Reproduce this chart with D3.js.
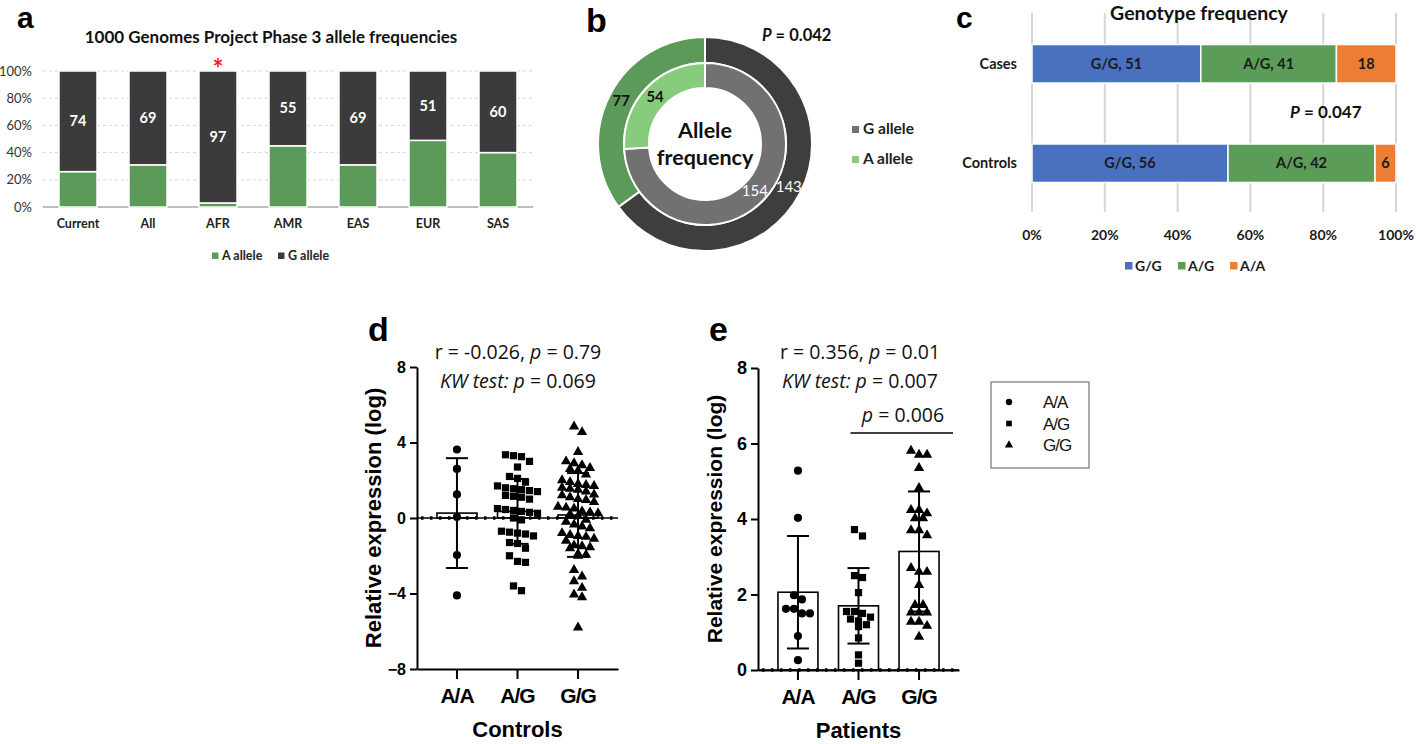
<!DOCTYPE html>
<html lang="en">
<head>
<meta charset="utf-8" />
<title>Allele and genotype frequencies</title>
<script src="https://d3js.org/d3.v7.min.js"></script>
<style>
  body { margin: 0; background: #ffffff; }
  svg { display: block; }
  .cal { font-family: Lato, "Open Sans", sans-serif; }
  .ari { font-family: "Liberation Sans", Arial, sans-serif; }
</style>
</head>
<body>
<svg id="fig" width="1416" height="744"></svg>
<script>
// ---- data ----
// panel a: 1000 Genomes allele frequencies (%)
const popCats = ["Current", "All", "AFR", "AMR", "EAS", "EUR", "SAS"];
const aAllele = [26, 31, 3, 45, 31, 49, 40];
const gAllele = [74, 69, 97, 55, 69, 51, 60];
const pctTicks = [0, 20, 40, 60, 80, 100];

// panel b: allele counts (outer ring / inner ring)
const alleleNames = ["G allele", "A allele"];
const outerCounts = [143, 77];
const innerCounts = [154, 54];

// panel c: genotype counts
const groupsC = ["Cases", "Controls"];
const genoC = ["G/G", "A/G", "A/A"];
const casesCounts = [51, 41, 18];
const controlsCounts = [56, 42, 6];

// panels d, e: relative expression (log)
const genos = ["A/A", "A/G", "G/G"];
const ctlAA = [3.63, 2.6, 1.25, 0.05, -1.96, -4.1];
const ctlAG = [3.35, 3.3, 3.25, 3.0, 2.7, 2.2, 2.1, 1.9, 1.7, 1.6, 1.55, 1.5, 1.45, 1.4, 1.2, 1.15, 1.1, 1.0,
  0.5, 0.45, 0.4, 0.35, 0.3, 0.25, 0.0, -0.1, -0.7, -0.75, -0.8, -0.85, -0.95, -1.3, -1.35, -1.6, -2.0,
  -2.3, -2.35, -3.6, -3.85];
const ctlGG = [4.85, 4.55, 3.5, 3.0, 2.9, 2.8, 2.65, 2.6, 2.5, 2.3, 2.0, 1.9, 1.8, 1.75, 1.7, 1.6, 1.55, 1.5,
  1.4, 1.25, 1.2, 1.1, 1.0, 0.95, 0.85, 0.6, 0.55, 0.5, 0.35, 0.3, 0.25, 0.2, 0.1, -0.1, -0.2, -0.35, -0.45,
  -0.55, -0.8, -0.9, -0.95, -1.0, -1.1, -1.2, -1.45, -1.5, -1.55, -1.6, -1.9, -1.95, -2.0, -2.75, -3.1,
  -3.35, -3.7, -4.05, -4.2, -5.8];
const ctlMean = [0.26, 0.35, 0.16];
const ctlSd = [2.91, 1.72, 2.22];

const patAA = [5.28, 4.03, 1.98, 1.87, 1.62, 1.62, 1.5, 1.5, 0.9, 0.26];
const patAG = [3.72, 3.55, 2.5, 2.45, 2.05, 1.55, 1.55, 1.5, 1.4, 1.35, 1.3, 1.2, 1.15, 0.85, 0.4, 0.18];
const patGG = [5.81, 5.7, 5.7, 5.35, 4.82, 4.24, 4.24, 4.15, 4.02, 4.02, 3.7, 3.7, 3.57, 2.7, 2.6, 2.6,
  2.25, 1.72, 1.72, 1.52, 1.52, 1.52, 1.28, 1.28, 1.17, 0.88];
const patMean = [2.06, 1.7, 3.14];
const patSd = [1.49, 1.0, 1.59];

const svg = d3.select("svg#fig");
const green = "#5b9a58";
const dark = "#3b3b3b";

// ================= panel a =================
const gA = svg.append("g").attr("class", "cal");
const xA = d3.scaleBand().domain(popCats).range([43, 533]).paddingInner(0.457).paddingOuter(0.2285);
const yA = d3.scaleLinear().domain([0, 100]).range([207, 71]);

gA.selectAll("line.grid")
  .data(pctTicks)
  .join("line")
  .attr("x1", 43).attr("x2", 533)
  .attr("y1", d => yA(d)).attr("y2", d => yA(d))
  .attr("stroke", d => d === 0 ? "#bdbdbd" : "#d4d4d4")
  .attr("stroke-width", d => d === 0 ? 2 : 1)
  .attr("stroke-dasharray", d => d === 0 ? null : "3,3");

const axA = gA.append("g")
  .attr("transform", "translate(43,0)")
  .call(d3.axisLeft(yA).tickValues(pctTicks).tickFormat(d => d + "%").tickSize(0).tickPadding(11));
axA.select(".domain").remove();
axA.selectAll("text").attr("font-size", 13).attr("fill", "#333").attr("font-family", "Lato");

gA.selectAll("rect.aa")
  .data(popCats)
  .join("rect")
  .attr("x", d => xA(d)).attr("width", xA.bandwidth())
  .attr("y", (d, i) => yA(aAllele[i]))
  .attr("height", (d, i) => yA(0) - yA(aAllele[i]))
  .attr("fill", green).attr("stroke", "#fff").attr("stroke-width", 1.5);

gA.selectAll("rect.ga")
  .data(popCats)
  .join("rect")
  .attr("x", d => xA(d)).attr("width", xA.bandwidth())
  .attr("y", (d, i) => yA(aAllele[i] + gAllele[i]))
  .attr("height", (d, i) => yA(aAllele[i]) - yA(aAllele[i] + gAllele[i]))
  .attr("fill", dark).attr("stroke", "#fff").attr("stroke-width", 1.5);

gA.selectAll("text.val")
  .data(popCats)
  .join("text")
  .attr("x", d => xA(d) + xA.bandwidth() / 2)
  .attr("y", (d, i) => yA(aAllele[i] + gAllele[i] / 2) + 5)
  .attr("text-anchor", "middle").attr("fill", "#fff")
  .attr("font-size", 14.5).attr("font-weight", "bold")
  .text((d, i) => gAllele[i]);

gA.selectAll("text.cat")
  .data(popCats)
  .join("text")
  .attr("x", d => xA(d) + xA.bandwidth() / 2)
  .attr("y", 228)
  .attr("text-anchor", "middle").attr("fill", "#222")
  .attr("font-size", 12.5).attr("font-weight", "bold")
  .text(d => d);

gA.append("text")
  .attr("x", xA("AFR") + xA.bandwidth() / 2).attr("y", 78)
  .attr("text-anchor", "middle").attr("fill", "#ff1a1a")
  .attr("font-size", 26).attr("font-weight", "bold")
  .text("*");

gA.append("text")
  .attr("x", 271).attr("y", 43)
  .attr("text-anchor", "middle").attr("fill", "#111")
  .attr("font-size", 17).attr("font-weight", "bold")
  .text("1000 Genomes Project Phase 3 allele frequencies");

const legA = [["A allele", green, 212], ["G allele", dark, 278]];
legA.forEach(([t, c, x]) => {
  gA.append("rect").attr("x", x).attr("y", 252.5).attr("width", 6.5).attr("height", 6.5).attr("fill", c);
  gA.append("text").attr("x", x + 10).attr("y", 260).attr("font-size", 12.5).attr("font-weight", "bold")
    .attr("fill", "#222").text(t);
});

// ================= panel b =================
const gB = svg.append("g").attr("class", "cal").attr("transform", "translate(705,144)");
const pie = d3.pie().sort(null).value(d => d);
const arcOuter = d3.arc().innerRadius(81).outerRadius(107);
const arcInner = d3.arc().innerRadius(56).outerRadius(81);
const outerCols = ["#3e3e3e", green];
const innerCols = ["#717171", "#86cc7c"];

gB.selectAll("path.outer")
  .data(pie(outerCounts))
  .join("path")
  .attr("d", arcOuter)
  .attr("fill", (d, i) => outerCols[i])
  .attr("stroke", "#fff").attr("stroke-width", 2);

gB.selectAll("path.inner")
  .data(pie(innerCounts))
  .join("path")
  .attr("d", arcInner)
  .attr("fill", (d, i) => innerCols[i])
  .attr("stroke", "#fff").attr("stroke-width", 2);

gB.selectAll("text.outer")
  .data(pie(outerCounts))
  .join("text")
  .attr("x", d => arcOuter.centroid(d)[0])
  .attr("y", d => arcOuter.centroid(d)[1] + 5)
  .attr("text-anchor", "middle")
  .attr("fill", (d, i) => i === 0 ? "#fff" : "#111")
  .attr("font-size", 15)
  .attr("font-weight", (d, i) => i === 0 ? "normal" : "bold")
  .text(d => d.data);

gB.selectAll("text.inner")
  .data(pie(innerCounts))
  .join("text")
  .attr("x", d => arcInner.centroid(d)[0])
  .attr("y", d => arcInner.centroid(d)[1] + 5)
  .attr("text-anchor", "middle")
  .attr("fill", (d, i) => i === 0 ? "#fff" : "#111")
  .attr("font-size", 15)
  .attr("font-weight", (d, i) => i === 0 ? "normal" : "bold")
  .text(d => d.data);

gB.append("text").attr("x", 0).attr("y", -6).attr("text-anchor", "middle")
  .attr("font-size", 21.5).attr("font-weight", "bold").attr("fill", "#111").text("Allele");
gB.append("text").attr("x", 0).attr("y", 21).attr("text-anchor", "middle")
  .attr("font-size", 21.5).attr("font-weight", "bold").attr("fill", "#111").text("frequency");

const pB = svg.append("text").attr("class", "cal").attr("x", 762).attr("y", 41)
  .attr("font-size", 16.5).attr("font-weight", "bold").attr("fill", "#111");
pB.append("tspan").attr("font-style", "italic").text("P");
pB.append("tspan").text(" = 0.042");

alleleNames.forEach((t, i) => {
  svg.append("rect").attr("x", 852).attr("y", 126 + i * 30).attr("width", 7).attr("height", 7)
    .attr("fill", innerCols[i]);
  svg.append("text").attr("class", "cal").attr("x", 863).attr("y", 134 + i * 30)
    .attr("font-size", 15.5).attr("font-weight", "bold").attr("fill", "#222").text(t);
});

// ================= panel c =================
const gC = svg.append("g").attr("class", "cal");
const xC = d3.scaleLinear().domain([0, 100]).range([1032, 1396]);
const yC = d3.scaleBand().domain(groupsC).range([14, 213]).paddingInner(0.613).paddingOuter(0.307);
const colsC = ["#4a70c0", "#5a9c58", "#ec7d34"];

gC.selectAll("line.grid")
  .data(pctTicks)
  .join("line")
  .attr("x1", d => xC(d)).attr("x2", d => xC(d))
  .attr("y1", 13).attr("y2", 212)
  .attr("stroke", "#d6d6d6").attr("stroke-width", 2);

const countsC = [casesCounts, controlsCounts];
groupsC.forEach((grp, gi) => {
  const cnt = countsC[gi];
  const tot = d3.sum(cnt);
  const cum = d3.cumsum(cnt);
  const segs = cnt.map((c, j) => ({ j, c, x0: (cum[j] - c) / tot * 100, x1: cum[j] / tot * 100 }));
  gC.selectAll("rect.s" + gi)
    .data(segs)
    .join("rect")
    .attr("x", d => xC(d.x0)).attr("width", d => xC(d.x1) - xC(d.x0))
    .attr("y", yC(grp)).attr("height", yC.bandwidth())
    .attr("fill", d => colsC[d.j])
    .attr("stroke", "#fff").attr("stroke-width", 1.5);
  gC.selectAll("text.s" + gi)
    .data(segs)
    .join("text")
    .attr("x", d => (xC(d.x0) + xC(d.x1)) / 2)
    .attr("y", yC(grp) + yC.bandwidth() / 2 + 5)
    .attr("text-anchor", "middle")
    .attr("font-size", 14.5).attr("font-weight", "bold").attr("fill", "#1a1a1a")
    .text(d => d.j === 2 ? d.c : genoC[d.j] + ", " + d.c);
  gC.append("text")
    .attr("x", 1017).attr("y", yC(grp) + yC.bandwidth() / 2 + 5)
    .attr("text-anchor", "end")
    .attr("font-size", 14.5).attr("font-weight", "bold").attr("fill", "#1a1a1a")
    .text(grp);
});

gC.selectAll("text.tick")
  .data(pctTicks)
  .join("text")
  .attr("x", d => xC(d)).attr("y", 240)
  .attr("text-anchor", "middle")
  .attr("font-size", 14).attr("font-weight", "bold").attr("fill", "#1a1a1a")
  .text(d => d + "%");

gC.append("text").attr("x", 1199).attr("y", 20).attr("text-anchor", "middle")
  .attr("font-size", 19.5).attr("font-weight", "bold").attr("fill", "#111").text("Genotype frequency");

const pC = gC.append("text").attr("x", 1290).attr("y", 118)
  .attr("font-size", 17).attr("font-weight", "bold").attr("fill", "#111");
pC.append("tspan").attr("font-style", "italic").text("P");
pC.append("tspan").text(" = 0.047");

const legCx = [1125, 1178, 1230];
genoC.forEach((t, i) => {
  gC.append("rect").attr("x", legCx[i]).attr("y", 262).attr("width", 7.5).attr("height", 7.5).attr("fill", colsC[i]);
  gC.append("text").attr("x", legCx[i] + 10).attr("y", 271)
    .attr("font-size", 14).attr("font-weight", "bold").attr("fill", "#1a1a1a").text(t);
});

// ================= panels d, e =================
const symbols = [d3.symbolCircle, d3.symbolSquare, d3.symbolTriangle];
const symSize = [52, 52, 46];

function swarm(vals, y, cx, step) {
  const pts = vals.map(v => ({ v, py: y(v) })).sort((a, b) => a.py - b.py);
  const out = [];
  let grp = [];
  const flush = () => {
    grp.forEach((p, i) => out.push({ v: p.v, py: p.py, px: cx + (i - (grp.length - 1) / 2) * step }));
    grp = [];
  };
  pts.forEach(p => {
    if (grp.length && p.py - grp[0].py > 7) flush();
    grp.push(p);
  });
  flush();
  return out;
}

function dotPanel(o) {
  const g = svg.append("g").attr("class", "ari");
  const x = d3.scaleBand().domain(genos).range([o.x0, o.x0 + 201]).paddingInner(0).paddingOuter(0.16);
  const y = d3.scaleLinear().domain(o.domain).range([o.yBottom, o.yBottom - 302]);
  const cx = d => x(d) + x.bandwidth() / 2;

  // mean bars
  g.selectAll("rect.bar")
    .data(genos)
    .join("rect")
    .attr("x", d => cx(d) - 20).attr("width", 40)
    .attr("y", (d, i) => y(o.mean[i]))
    .attr("height", (d, i) => y(0) - y(o.mean[i]))
    .attr("fill", "#fff").attr("stroke", "#000").attr("stroke-width", 1.6);

  // zero line with dots
  g.append("line").attr("x1", o.x0).attr("x2", o.x0 + 201).attr("y1", y(0)).attr("y2", y(0))
    .attr("stroke", "#000").attr("stroke-width", 1.5);
  g.append("line").attr("x1", o.x0 + 4).attr("x2", o.x0 + 201).attr("y1", y(0)).attr("y2", y(0))
    .attr("stroke", "#000").attr("stroke-width", 3.5).attr("stroke-dasharray", "2.5,6.5");

  // points
  o.vals.forEach((vals, i) => {
    g.selectAll("path.p" + i)
      .data(swarm(vals, y, cx(genos[i]), 8))
      .join("path")
      .attr("transform", d => `translate(${d.px},${d.py})`)
      .attr("d", d3.symbol().type(symbols[i]).size(symSize[i]))
      .attr("fill", "#000");
  });

  // error bars
  genos.forEach((gname, i) => {
    const lo = y(o.mean[i] - o.sd[i]);
    const hi = y(o.mean[i] + o.sd[i]);
    g.append("line").attr("x1", cx(gname)).attr("x2", cx(gname)).attr("y1", lo).attr("y2", hi)
      .attr("stroke", "#000").attr("stroke-width", 2);
    [lo, hi].forEach(yy => g.append("line").attr("x1", cx(gname) - 11).attr("x2", cx(gname) + 11)
      .attr("y1", yy).attr("y2", yy).attr("stroke", "#000").attr("stroke-width", 2));
  });

  // axes
  const ay = g.append("g").attr("transform", `translate(${o.x0},0)`)
    .call(d3.axisLeft(y).tickValues(o.ticks).tickSize(7).tickSizeOuter(0).tickPadding(4));
  ay.select(".domain").attr("stroke-width", 2);
  ay.selectAll(".tick line").attr("stroke-width", 2);
  ay.selectAll("text").attr("font-size", o.tickFont).attr("font-weight", "bold").attr("fill", "#000")
    .attr("font-family", "Liberation Sans");

  const ax = g.append("g").attr("transform", `translate(0,${o.yBottom})`)
    .call(d3.axisBottom(x).tickSize(10).tickSizeOuter(0).tickPadding(9));
  ax.select(".domain").attr("stroke-width", 2);
  ax.selectAll(".tick line").attr("stroke-width", 2);
  ax.selectAll("text").attr("font-size", 21).attr("font-weight", "bold").attr("fill", "#000")
    .attr("font-family", "Liberation Sans").attr("letter-spacing", -1);

  g.append("text")
    .attr("transform", `translate(${o.x0 - 36},${o.yBottom - 151}) rotate(-90)`)
    .attr("text-anchor", "middle")
    .attr("font-size", o.titleFont).attr("font-weight", "bold").attr("fill", "#000")
    .text("Relative expression (log)");

  g.append("text").attr("x", x(genos[1]) + x.bandwidth() / 2).attr("y", o.yBottom + 68)
    .attr("text-anchor", "middle").attr("font-size", 22).attr("font-weight", "bold").text(o.group);

  const t1 = g.append("text").attr("x", o.tx).attr("y", 359).attr("text-anchor", "middle")
    .attr("font-family", "Open Sans").attr("font-size", 19.5).attr("fill", "#111");
  t1.append("tspan").text(o.r + ", ");
  t1.append("tspan").attr("font-style", "italic").text("p");
  t1.append("tspan").text(" = " + o.p);

  const t2 = g.append("text").attr("x", o.tx).attr("y", 388).attr("text-anchor", "middle")
    .attr("font-family", "Open Sans").attr("font-size", 19.5).attr("fill", "#111");
  t2.append("tspan").attr("font-style", "italic").text("KW test: p");
  t2.append("tspan").text(" = " + o.kw);

  g.append("text").attr("x", o.x0 - 49).attr("y", 341)
    .attr("font-size", 34).attr("font-weight", "bold").text(o.letter);
  return { g, x, y, cx };
}

dotPanel({
  x0: 417, yBottom: 669, domain: [-8, 8], ticks: [-8, -4, 0, 4, 8],
  vals: [ctlAA, ctlAG, ctlGG], mean: ctlMean, sd: ctlSd,
  tickFont: 16, titleFont: 22, group: "Controls",
  r: "r = -0.026", p: "0.79", kw: "0.069", tx: 518, letter: "d"
});

const pe = dotPanel({
  x0: 758, yBottom: 670, domain: [0, 8], ticks: [0, 2, 4, 6, 8],
  vals: [patAA, patAG, patGG], mean: patMean, sd: patSd,
  tickFont: 18, titleFont: 21, group: "Patients",
  r: "r = 0.356", p: "0.01", kw: "0.007", tx: 860, letter: "e"
});

// bracket A/G vs G/G in patients
pe.g.append("line").attr("x1", pe.cx("A/G") - 8).attr("x2", pe.cx("G/G") + 34)
  .attr("y1", 433).attr("y2", 433).attr("stroke", "#000").attr("stroke-width", 1.5);
const pt = pe.g.append("text").attr("x", 903).attr("y", 422).attr("text-anchor", "middle")
  .attr("font-family", "Open Sans").attr("font-size", 19.5).attr("fill", "#111");
pt.append("tspan").attr("font-style", "italic").text("p");
pt.append("tspan").text(" = 0.006");

// shape legend
const gL = svg.append("g").attr("class", "ari");
gL.append("rect").attr("x", 991).attr("y", 382).attr("width", 98).attr("height", 86)
  .attr("fill", "#fff").attr("stroke", "#808080").attr("stroke-width", 1.3);
genos.forEach((t, i) => {
  gL.append("path").attr("transform", `translate(1009,${402 + i * 21.5})`)
    .attr("d", d3.symbol().type(symbols[i]).size(i === 2 ? 30 : 32)).attr("fill", "#000");
  gL.append("text").attr("x", 1043).attr("y", 408 + i * 21.5).attr("font-size", 17)
    .attr("letter-spacing", -1).attr("fill", "#111").text(t);
});

// panel letters a-c
[["a", 17, 28], ["b", 586, 32], ["c", 956, 28]].forEach(([t, x, y]) => {
  svg.append("text").attr("class", "ari").attr("x", x).attr("y", y)
    .attr("font-size", t === "b" ? 34 : 30).attr("font-weight", "bold").text(t);
});
</script>
</body>
</html>
